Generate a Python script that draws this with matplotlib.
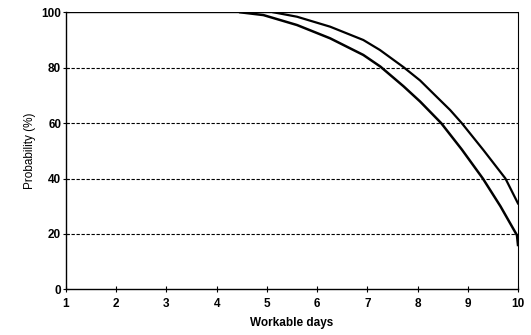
import matplotlib
matplotlib.use("Agg")
import matplotlib.pyplot as plt

# Probability of completing the job versus number of workable days
days_upper = [5.13, 5.6, 6.26, 6.92, 7.25, 7.72, 8.05, 8.38, 8.65, 8.88, 9.31, 9.75, 10]
prob_upper = [100, 98.4, 94.8, 90.0, 86.4, 80.2, 75.4, 69.5, 64.7, 60, 50.3, 40, 31]

days_lower = [4.47, 4.93, 5.6, 6.26, 6.92, 7.26, 7.72, 8.05, 8.47, 8.88, 9.3, 9.65, 9.98, 10]
prob_lower = [100, 99, 95.4, 90.6, 84.6, 80.4, 73.3, 67.8, 60, 50.5, 40, 30, 19.5, 16]

x_ticks = [1, 2, 3, 4, 5, 6, 7, 8, 9, 10]
y_ticks = [0, 20, 40, 60, 80, 100]

plt.rcParams["font.family"] = ["Liberation Sans", "DejaVu Sans"]

fig = plt.figure(figsize=(5.31, 3.35), dpi=100)
ax = fig.add_axes([0.1243, 0.1364, 0.8512, 0.8269])

for y in y_ticks[1:-1]:
    ax.axhline(y, color="black", lw=0.8, ls=(0, (3, 1.5)), zorder=1)

ax.plot(days_upper, prob_upper, color="black", lw=1.6, zorder=3,
        solid_joinstyle="round")
ax.plot(days_lower, prob_lower, color="black", lw=1.8, zorder=3,
        solid_joinstyle="round")
ax.axhline(100, color="black", lw=1.0, zorder=2)

ax.set_xlim(1, 10)
ax.set_ylim(0, 100)
ax.set_xticks(x_ticks)
ax.set_yticks(y_ticks)
ax.tick_params(axis="both", direction="inout", length=5, width=0.8,
               labelsize=8.5, colors="black")
ax.tick_params(axis="x", pad=4)
ax.tick_params(axis="y", pad=1)
for lab in ax.get_xticklabels() + ax.get_yticklabels():
    lab.set_fontweight("bold")

for side in ["left", "bottom"]:
    ax.spines[side].set_linewidth(1.0)
ax.spines["right"].set_linewidth(0.8)
ax.spines["top"].set_visible(False)

ax.set_xlabel("Workable days", fontsize=8.5, fontweight="bold", labelpad=5)
ax.set_ylabel("Probability (%)", fontsize=8.5, labelpad=4)

fig.savefig("out.png", dpi=100)
